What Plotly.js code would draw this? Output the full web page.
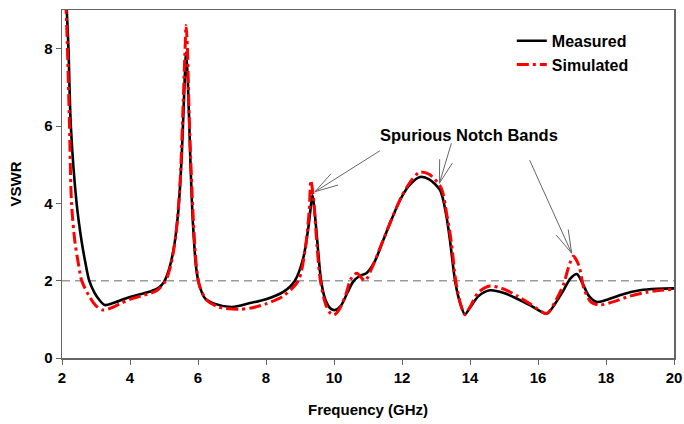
<!DOCTYPE html>
<html><head><meta charset="utf-8">
<script src="https://cdn.plot.ly/plotly-3.0.1.min.js"></script>
<style>body{margin:0;background:#fff}#chart{width:684px;height:424px}</style>
</head><body><div id="chart"></div>
<script>
// Measured VSWR
const measuredFreq = [2.10,2.14,2.19,2.26,2.43,2.58,2.68,2.8,2.95,3.1,3.26,3.5,3.8,4.0,4.3,4.6,4.85,5.0,5.15,5.3,5.42,5.52,5.6,5.65,5.7,5.78,5.85,5.95,6.05,6.2,6.5,7.0,7.53,8.0,8.51,8.85,9.1,9.25,9.37,9.45,9.55,9.62,9.75,9.9,10.03,10.2,10.4,10.56,10.75,10.96,11.2,11.45,11.7,11.94,12.2,12.53,12.8,13.12,13.3,13.41,13.56,13.7,13.85,14.0,14.25,14.59,15.0,15.37,15.8,16.26,16.5,16.75,16.95,17.14,17.3,17.5,17.73,18.0,18.5,19.0,19.5,20.0];
const measuredVSWR = [9.8,9.0,8.0,6.0,4.0,3.0,2.5,2.0,1.7,1.5,1.37,1.42,1.52,1.58,1.65,1.72,1.82,1.97,2.3,2.9,3.8,5.2,7.0,7.9,7.2,5.0,3.5,2.3,1.85,1.55,1.4,1.32,1.42,1.52,1.71,2.0,2.6,3.4,4.21,3.6,2.6,2.0,1.5,1.28,1.24,1.35,1.7,1.97,2.12,2.2,2.5,3.05,3.6,4.08,4.45,4.68,4.62,4.34,3.7,3.05,2.0,1.45,1.13,1.3,1.6,1.75,1.68,1.54,1.35,1.15,1.4,1.75,2.05,2.17,1.95,1.6,1.45,1.5,1.65,1.75,1.79,1.8];
// Simulated VSWR
const simulatedFreq = [2.08,2.12,2.16,2.22,2.28,2.38,2.48,2.58,2.8,3.0,3.2,3.4,3.7,4.0,4.4,4.8,5.05,5.2,5.35,5.47,5.56,5.62,5.65,5.68,5.75,5.85,5.95,6.05,6.25,6.6,7.2,7.6,8.0,8.5,8.95,9.15,9.27,9.32,9.4,9.5,9.6,9.75,9.9,10.0,10.15,10.35,10.5,10.67,10.91,11.1,11.4,11.7,12.0,12.3,12.53,12.8,13.15,13.32,13.45,13.58,13.72,13.85,14.0,14.25,14.59,15.0,15.4,15.8,16.26,16.5,16.75,16.9,17.04,17.2,17.35,17.55,17.8,18.2,18.7,19.2,19.6,20.0];
const simulatedVSWR = [9.8,9.0,8.0,6.0,4.0,3.0,2.45,2.0,1.6,1.35,1.24,1.28,1.4,1.52,1.62,1.75,2.0,2.4,3.2,4.5,6.5,8.0,8.6,8.2,6.0,3.8,2.4,1.85,1.5,1.32,1.26,1.3,1.4,1.6,2.0,2.8,3.8,4.59,4.1,2.9,2.0,1.4,1.15,1.11,1.25,1.65,2.05,2.19,2.0,2.3,2.95,3.6,4.2,4.62,4.81,4.75,4.4,3.7,3.0,2.0,1.4,1.12,1.32,1.7,1.86,1.78,1.6,1.38,1.15,1.45,1.9,2.35,2.63,2.4,1.8,1.45,1.37,1.45,1.6,1.7,1.75,1.78];
const threshold = 2;
const xTicks = [2,4,6,8,10,12,14,16,18,20];
const yTicks = [0,2,4,6,8];
const seriesNames = ['Measured','Simulated'];
const noteText = 'Spurious Notch Bands';
// arrow tips (data coords) and tail offsets (px)
const arrowTipX = [9.44, 13.10, 16.99];
const arrowTipY = [4.30, 4.52, 2.71];
const arrowTailDX = [65, 12, -42];
const arrowTailDY = [-41, -40, -93];

const W=684,H=424,ML=62,MR=10,MT=10,MB=66;
const X0=2,X1=20,Y0=0,Y1=9;
const pxX=(W-ML-MR)/(X1-X0), pxY=(H-MT-MB)/(Y1-Y0);
const shapes=[{type:'line',xref:'x',yref:'y',x0:X0,x1:X1,y0:threshold,y1:threshold,line:{color:'#9a9a9a',width:1.5,dash:'8px,5px'},layer:'below'}];
for(let i=0;i<arrowTipX.length;i++){
  const tx=arrowTipX[i], ty=arrowTipY[i];
  const dx=arrowTailDX[i], dy=arrowTailDY[i];
  const ang=Math.atan2(dy,dx);
  const pts=[[dx,dy]];
  [0.28,-0.28].forEach(s=>{pts.push([24*Math.cos(ang+s),24*Math.sin(ang+s)]);});
  pts.forEach(p=>{
    shapes.push({type:'line',xref:'x',yref:'y',x0:tx,y0:ty,x1:tx+p[0]/pxX,y1:ty-p[1]/pxY,line:{color:'#666',width:1}});
  });
}
const font='"Liberation Sans", Arial, sans-serif';
const traces=[
 {x:measuredFreq,y:measuredVSWR,name:seriesNames[0],mode:'lines',line:{color:'#000',width:2.6,shape:'spline',smoothing:0.8}},
 {x:simulatedFreq,y:simulatedVSWR,name:seriesNames[1],mode:'lines',line:{color:'#ff0000',width:3,dash:'12px,4px,3px,4px',shape:'spline',smoothing:0.8}}
];
const layout={
 width:W,height:H,margin:{l:ML,r:MR,t:MT,b:MB},
 paper_bgcolor:'#fff',plot_bgcolor:'#fff',
 font:{family:font,color:'#000'},
 showlegend:true,
 legend:{x:0.735,y:0.96,xanchor:'left',yanchor:'top',bgcolor:'rgba(0,0,0,0)',font:{size:16,family:font,weight:'bold'},tracegroupgap:0},
 xaxis:{range:[X0,X1],tickvals:xTicks,ticktext:xTicks.map(String),ticks:'outside',ticklen:5,tickcolor:'#666',showgrid:false,zeroline:false,showline:true,linecolor:'#666',linewidth:1.5,mirror:true,tickfont:{size:15,weight:'bold'},title:{text:'Frequency (GHz)',font:{size:15,weight:'bold'},standoff:20}},
 yaxis:{range:[Y0,Y1],tickvals:yTicks,ticktext:yTicks.map(String),ticks:'outside',ticklen:5,tickcolor:'#666',showgrid:false,zeroline:false,showline:true,linecolor:'#666',linewidth:1.5,mirror:true,tickfont:{size:15,weight:'bold'},title:{text:'VSWR',font:{size:15,weight:'bold'},standoff:19}},
 shapes:shapes,
 annotations:[{xref:'x',yref:'y',x:11.29,y:5.77,xanchor:'left',yanchor:'middle',text:noteText,showarrow:false,font:{size:16.5,weight:'bold',family:font}}]
};
Plotly.newPlot('chart',traces,layout,{staticPlot:true});
</script></body></html>
